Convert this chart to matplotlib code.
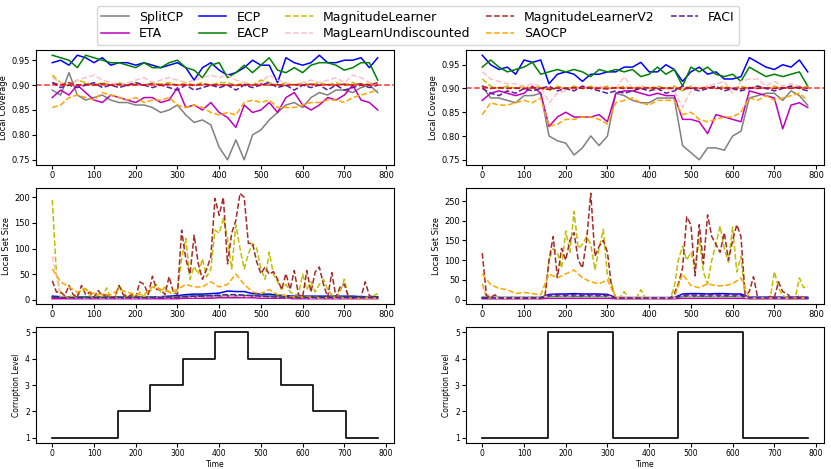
import numpy as np
import matplotlib.pyplot as plt

# time grids
t20 = np.arange(0, 781, 20)
t10 = np.arange(0, 781, 10)

# ---------------- local coverage, left (step 20) ----------------
split_cov_L = [0.890, 0.880, 0.925, 0.880, 0.870, 0.875, 0.880, 0.870, 0.865, 0.865,
               0.860, 0.860, 0.855, 0.845, 0.850, 0.860, 0.840, 0.825, 0.830, 0.820,
               0.775, 0.750, 0.790, 0.750, 0.800, 0.810, 0.830, 0.845, 0.860, 0.865,
               0.855, 0.875, 0.885, 0.880, 0.890, 0.890, 0.885, 0.895, 0.900, 0.885]
eta_cov_L = [0.875, 0.890, 0.880, 0.900, 0.885, 0.870, 0.865, 0.880, 0.875, 0.870,
             0.865, 0.875, 0.875, 0.865, 0.870, 0.895, 0.855, 0.860, 0.850, 0.865,
             0.845, 0.835, 0.815, 0.860, 0.845, 0.850, 0.865, 0.845, 0.875, 0.885,
             0.860, 0.850, 0.860, 0.875, 0.870, 0.880, 0.900, 0.870, 0.865, 0.850]
ecp_cov_L = [0.945, 0.950, 0.940, 0.960, 0.955, 0.945, 0.955, 0.940, 0.945, 0.945,
             0.940, 0.945, 0.940, 0.935, 0.940, 0.945, 0.935, 0.910, 0.935, 0.945,
             0.930, 0.920, 0.925, 0.935, 0.950, 0.940, 0.940, 0.905, 0.955, 0.945,
             0.940, 0.945, 0.960, 0.945, 0.945, 0.950, 0.950, 0.955, 0.935, 0.955]
eacp_cov_L = [0.960, 0.955, 0.950, 0.935, 0.960, 0.955, 0.950, 0.945, 0.945, 0.940,
              0.935, 0.945, 0.935, 0.935, 0.945, 0.950, 0.935, 0.930, 0.915, 0.940,
              0.945, 0.915, 0.925, 0.940, 0.925, 0.940, 0.955, 0.930, 0.925, 0.935,
              0.925, 0.940, 0.945, 0.945, 0.940, 0.930, 0.935, 0.945, 0.945, 0.910]
ml_cov_L = [0.920, 0.905, 0.900, 0.910, 0.905, 0.900, 0.905, 0.900, 0.905, 0.900,
            0.905, 0.900, 0.905, 0.902, 0.905, 0.900, 0.905, 0.900, 0.905, 0.900,
            0.905, 0.905, 0.900, 0.905, 0.900, 0.910, 0.905, 0.900, 0.905, 0.900,
            0.905, 0.900, 0.905, 0.900, 0.905, 0.900, 0.905, 0.900, 0.905, 0.900]
mlu_cov_L = [0.915, 0.905, 0.900, 0.910, 0.915, 0.920, 0.910, 0.905, 0.900, 0.905,
             0.910, 0.915, 0.905, 0.910, 0.915, 0.910, 0.905, 0.910, 0.915, 0.920,
             0.915, 0.920, 0.910, 0.905, 0.900, 0.905, 0.920, 0.910, 0.905, 0.900,
             0.905, 0.910, 0.905, 0.910, 0.915, 0.905, 0.920, 0.915, 0.905, 0.900]
mlv2_cov_L = [0.905, 0.900, 0.905, 0.900, 0.902, 0.900, 0.903, 0.900, 0.902, 0.899,
              0.901, 0.900, 0.903, 0.900, 0.902, 0.900, 0.901, 0.899, 0.902, 0.900,
              0.901, 0.900, 0.899, 0.901, 0.900, 0.902, 0.900, 0.901, 0.899, 0.901,
              0.900, 0.902, 0.900, 0.901, 0.900, 0.902, 0.900, 0.903, 0.900, 0.905]
saocp_cov_L = [0.855, 0.860, 0.875, 0.880, 0.875, 0.870, 0.885, 0.880, 0.875, 0.870,
               0.875, 0.865, 0.870, 0.870, 0.875, 0.860, 0.855, 0.860, 0.855, 0.845,
               0.840, 0.845, 0.840, 0.865, 0.870, 0.865, 0.870, 0.855, 0.855, 0.855,
               0.860, 0.865, 0.865, 0.870, 0.870, 0.865, 0.875, 0.880, 0.885, 0.890]
faci_cov_L = [0.905, 0.895, 0.900, 0.895, 0.900, 0.905, 0.895, 0.900, 0.895, 0.900,
              0.905, 0.900, 0.895, 0.900, 0.895, 0.890, 0.900, 0.890, 0.895, 0.900,
              0.895, 0.900, 0.890, 0.900, 0.895, 0.900, 0.905, 0.895, 0.900, 0.890,
              0.900, 0.895, 0.900, 0.890, 0.900, 0.890, 0.895, 0.900, 0.895, 0.900]

# ---------------- local coverage, right (step 20) ----------------
split_cov_R = [0.905, 0.880, 0.880, 0.875, 0.870, 0.885, 0.885, 0.890, 0.800, 0.790,
               0.785, 0.760, 0.775, 0.800, 0.780, 0.800, 0.890, 0.885, 0.875, 0.870,
               0.870, 0.880, 0.880, 0.880, 0.780, 0.765, 0.750, 0.775, 0.775, 0.770,
               0.800, 0.810, 0.880, 0.885, 0.890, 0.890, 0.875, 0.895, 0.885, 0.865]
eta_cov_R = [0.875, 0.890, 0.895, 0.890, 0.885, 0.890, 0.905, 0.890, 0.820, 0.840,
             0.850, 0.840, 0.840, 0.840, 0.845, 0.830, 0.890, 0.895, 0.895, 0.890,
             0.885, 0.890, 0.885, 0.885, 0.835, 0.835, 0.830, 0.805, 0.845, 0.840,
             0.835, 0.830, 0.895, 0.890, 0.885, 0.880, 0.815, 0.865, 0.870, 0.860]
ecp_cov_R = [0.970, 0.950, 0.940, 0.945, 0.930, 0.960, 0.955, 0.960, 0.910, 0.930,
             0.935, 0.930, 0.915, 0.930, 0.930, 0.935, 0.935, 0.945, 0.945, 0.955,
             0.935, 0.935, 0.950, 0.940, 0.915, 0.935, 0.945, 0.930, 0.935, 0.920,
             0.920, 0.925, 0.965, 0.955, 0.945, 0.940, 0.950, 0.945, 0.960, 0.935]
eacp_cov_R = [0.945, 0.960, 0.945, 0.935, 0.940, 0.945, 0.955, 0.930, 0.935, 0.940,
              0.935, 0.940, 0.935, 0.925, 0.940, 0.935, 0.940, 0.935, 0.940, 0.925,
              0.930, 0.945, 0.930, 0.940, 0.905, 0.945, 0.935, 0.945, 0.930, 0.925,
              0.930, 0.915, 0.945, 0.935, 0.925, 0.930, 0.925, 0.930, 0.935, 0.905]
ml_cov_R = [0.920, 0.905, 0.900, 0.905, 0.900, 0.905, 0.900, 0.905, 0.895, 0.905,
            0.900, 0.905, 0.900, 0.905, 0.900, 0.905, 0.900, 0.905, 0.900, 0.905,
            0.900, 0.905, 0.900, 0.905, 0.895, 0.905, 0.900, 0.905, 0.900, 0.905,
            0.900, 0.905, 0.900, 0.905, 0.900, 0.905, 0.900, 0.905, 0.900, 0.905]
mlu_cov_R = [0.935, 0.920, 0.915, 0.910, 0.910, 0.905, 0.910, 0.905, 0.870, 0.890,
             0.895, 0.900, 0.905, 0.900, 0.905, 0.900, 0.900, 0.925, 0.900, 0.905,
             0.900, 0.895, 0.900, 0.895, 0.860, 0.895, 0.900, 0.905, 0.910, 0.915,
             0.890, 0.915, 0.920, 0.920, 0.905, 0.915, 0.905, 0.910, 0.905, 0.900]
mlv2_cov_R = [0.905, 0.900, 0.902, 0.900, 0.901, 0.899, 0.902, 0.900, 0.898, 0.901,
              0.900, 0.902, 0.900, 0.901, 0.900, 0.899, 0.902, 0.900, 0.901, 0.900,
              0.902, 0.900, 0.901, 0.900, 0.898, 0.901, 0.900, 0.902, 0.900, 0.901,
              0.900, 0.899, 0.902, 0.900, 0.901, 0.900, 0.902, 0.900, 0.903, 0.900]
saocp_cov_R = [0.845, 0.870, 0.865, 0.865, 0.870, 0.875, 0.870, 0.880, 0.820, 0.825,
               0.835, 0.835, 0.840, 0.840, 0.835, 0.825, 0.870, 0.875, 0.880, 0.870,
               0.865, 0.875, 0.875, 0.875, 0.845, 0.850, 0.835, 0.830, 0.835, 0.840,
               0.840, 0.850, 0.880, 0.875, 0.885, 0.875, 0.880, 0.885, 0.890, 0.875]
faci_cov_R = [0.900, 0.890, 0.885, 0.895, 0.890, 0.900, 0.895, 0.900, 0.905, 0.895,
              0.900, 0.895, 0.905, 0.900, 0.895, 0.890, 0.895, 0.890, 0.895, 0.900,
              0.895, 0.900, 0.890, 0.895, 0.905, 0.900, 0.895, 0.900, 0.905, 0.895,
              0.900, 0.895, 0.900, 0.905, 0.900, 0.895, 0.900, 0.905, 0.900, 0.895]

# ---------------- local set size, left ----------------
# step 10
ml_set_L = [195, 50, 10, 5, 8, 5, 10, 20, 22, 8,
            5, 10, 5, 23, 5, 5, 28, 15, 5, 10,
            5, 15, 5, 15, 20, 30, 15, 25, 15, 10,
            20, 80, 120, 40, 65, 50, 80, 45, 60, 136,
            130, 159, 120, 60, 146, 100, 60, 90, 110, 100,
            60, 40, 93, 50, 35, 20, 30, 15, 10, 10,
            50, 20, 35, 15, 30, 40, 20, 10, 5, 15,
            40, 5, 3, 3, 3, 5, 5, 8, 12]
mlv2_set_L = [37, 15, 15, 8, 28, 10, 5, 28, 10, 15,
              5, 18, 8, 10, 5, 5, 28, 10, 5, 10,
              5, 35, 30, 10, 46, 20, 20, 10, 45, 15,
              10, 136, 80, 50, 126, 70, 40, 60, 84, 198,
              165, 200, 70, 130, 155, 208, 200, 110, 110, 74,
              51, 64, 50, 55, 40, 20, 51, 20, 57, 10,
              5, 57, 15, 54, 64, 30, 5, 53, 5, 25,
              30, 5, 3, 3, 5, 35, 8, 5, 3]
# step 20
saocp_set_L = [60, 35, 25, 15, 20, 12, 10, 10, 20, 15, 10, 10, 25, 20, 15, 20, 30, 25, 25, 35,
               25, 30, 50, 30, 15, 12, 20, 10, 8, 5, 5, 5, 4, 4, 5, 4, 3, 3, 3, 3]
ecp_set_L = [7, 6, 5, 5, 5, 5, 5, 5, 5, 5, 5, 5, 5, 6, 7, 8, 10, 11, 11, 12,
             13, 17, 16, 16, 12, 11, 11, 9, 8, 7, 7, 7, 7, 7, 7, 7, 7, 6, 6, 6]
eacp_set_L = [5, 5, 5, 5, 5, 5, 5, 5, 5, 5, 5, 5, 5, 5, 5, 6, 7, 7, 8, 8,
              8, 8, 8, 8, 8, 7, 7, 7, 6, 6, 6, 5, 5, 5, 5, 5, 5, 5, 5, 5]
split_set_L = [3, 3, 3, 3, 3, 3, 3, 3, 3, 3, 3, 3, 3, 3, 4, 4, 5, 5, 6, 6,
               7, 7, 8, 8, 7, 7, 6, 6, 5, 5, 4, 4, 4, 3, 3, 3, 3, 3, 3, 3]
eta_set_L = [2, 2, 2, 2, 2, 2, 2, 2, 2, 2, 2, 2, 2, 2, 2, 2, 3, 3, 3, 3,
             4, 4, 4, 4, 4, 3, 3, 3, 3, 2, 2, 2, 2, 2, 2, 2, 2, 2, 2, 2]
mlu_set_L = [85, 5, 4, 4, 3, 4, 3, 4, 3, 4, 3, 4, 4, 5, 4, 5, 6, 5, 6, 7,
             8, 7, 8, 6, 7, 6, 5, 5, 4, 4, 4, 3, 3, 4, 3, 3, 3, 4, 3, 3]
faci_set_L = [6, 4, 4, 4, 4, 4, 4, 4, 4, 4, 4, 4, 4, 4, 5, 5, 6, 7, 7, 8,
              9, 10, 10, 9, 8, 7, 6, 5, 5, 4, 4, 4, 4, 4, 4, 4, 4, 4, 4, 4]

# ---------------- local set size, right ----------------
ml_set_R = [40, 5, 3, 3, 3, 3, 3, 3, 3, 3,
            3, 3, 3, 3, 3, 5, 100, 130, 120, 80,
            174, 120, 224, 130, 140, 160, 140, 75, 130, 178,
            60, 40, 3, 5, 20, 5, 3, 5, 25, 5,
            3, 3, 3, 5, 3, 3, 30, 100, 135, 100,
            120, 80, 155, 70, 40, 100, 140, 187, 130, 95,
            184, 70, 110, 5, 3, 3, 3, 3, 3, 3,
            71, 30, 10, 5, 3, 3, 55, 30, 35]
mlv2_set_R = [118, 10, 5, 12, 5, 3, 3, 5, 3, 3,
              3, 3, 5, 3, 3, 5, 100, 160, 55, 130,
              100, 150, 170, 100, 80, 150, 270, 110, 135, 150,
              120, 30, 3, 3, 3, 3, 3, 3, 3, 3,
              3, 3, 3, 3, 3, 3, 15, 40, 80, 210,
              190, 60, 190, 90, 215, 160, 140, 120, 170, 100,
              150, 190, 160, 10, 20, 58, 5, 3, 3, 8,
              5, 45, 20, 15, 5, 3, 10, 5, 3]
saocp_set_R = [65, 38, 28, 25, 15, 18, 15, 12, 65, 55, 65, 75, 55, 45, 40, 50, 5, 5, 4, 5,
               4, 4, 4, 5, 65, 35, 30, 40, 35, 35, 40, 55, 5, 4, 4, 4, 4, 4, 5, 5]
ecp_set_R = [5, 5, 5, 5, 5, 5, 5, 5, 13, 14, 14, 15, 14, 14, 14, 13, 5, 5, 5, 5,
             5, 5, 5, 5, 14, 15, 15, 14, 15, 15, 14, 14, 6, 6, 6, 6, 6, 6, 6, 6]
eacp_set_R = [5, 5, 5, 5, 5, 5, 5, 5, 8, 8, 8, 8, 8, 8, 8, 8, 4, 4, 4, 4,
              4, 4, 4, 4, 8, 8, 8, 8, 8, 8, 8, 8, 4, 4, 4, 4, 4, 4, 4, 4]
split_set_R = [3, 3, 3, 3, 3, 3, 3, 3, 10, 10, 10, 10, 10, 10, 10, 10, 3, 3, 3, 3,
               3, 3, 3, 3, 10, 10, 10, 10, 10, 10, 10, 10, 3, 3, 3, 3, 3, 3, 3, 3]
eta_set_R = [2, 2, 2, 2, 2, 2, 2, 2, 3, 3, 3, 3, 3, 3, 3, 3, 2, 2, 2, 2,
             2, 2, 2, 2, 3, 3, 3, 3, 3, 3, 3, 3, 2, 2, 2, 2, 2, 2, 2, 2]
mlu_set_R = [30, 5, 4, 4, 4, 4, 4, 4, 10, 10, 9, 10, 10, 9, 10, 9, 4, 4, 4, 4,
             4, 4, 4, 4, 10, 9, 10, 10, 9, 10, 10, 9, 4, 4, 4, 4, 4, 4, 4, 4]
faci_set_R = [5, 4, 4, 4, 4, 4, 4, 4, 11, 12, 11, 12, 11, 12, 11, 11, 4, 4, 4, 4,
              4, 4, 4, 4, 11, 12, 11, 12, 12, 11, 12, 11, 4, 4, 4, 4, 4, 4, 4, 4]

# ---------------- corruption schedules ----------------
change_L = [0, 157, 235, 313, 391, 469, 547, 625, 703, 780]
level_L = [1, 2, 3, 4, 5, 4, 3, 2, 1, 1]
change_R = [0, 157, 313, 469, 625, 780]
level_R = [1, 5, 1, 5, 1, 1]

target = 0.9

names = ["SplitCP", "ETA", "ECP", "EACP", "MagnitudeLearner",
         "MagLearnUndiscounted", "MagnitudeLearnerV2", "SAOCP", "FACI"]
colors = ["gray", "m", "b", "g", "y", "pink", "brown", "orange", "#5a1d9e"]
styles = ["-", "-", "-", "-", "--", "--", "--", "--", "--"]

cov_L = [split_cov_L, eta_cov_L, ecp_cov_L, eacp_cov_L, ml_cov_L,
         mlu_cov_L, mlv2_cov_L, saocp_cov_L, faci_cov_L]
cov_R = [split_cov_R, eta_cov_R, ecp_cov_R, eacp_cov_R, ml_cov_R,
         mlu_cov_R, mlv2_cov_R, saocp_cov_R, faci_cov_R]
set_L = [(t20, split_set_L), (t20, eta_set_L), (t20, ecp_set_L), (t20, eacp_set_L),
         (t10, ml_set_L), (t20, mlu_set_L), (t10, mlv2_set_L), (t20, saocp_set_L),
         (t20, faci_set_L)]
set_R = [(t20, split_set_R), (t20, eta_set_R), (t20, ecp_set_R), (t20, eacp_set_R),
         (t10, ml_set_R), (t20, mlu_set_R), (t10, mlv2_set_R), (t20, saocp_set_R),
         (t20, faci_set_R)]

fig = plt.figure(figsize=(8.31, 4.69), dpi=100)
W, H = 831.0, 469.0


def add_ax(l, t, r, b):
    return fig.add_axes([l / W, 1 - b / H, (r - l) / W, (b - t) / H])


lefts = [(36, 394), (466, 824)]
rows = [(50, 165), (188, 304), (327, 443)]
lw = 1.1
xt = [0, 100, 200, 300, 400, 500, 600, 700, 800]

for col, (l, r) in enumerate(lefts):
    # coverage
    ax = add_ax(l, rows[0][0], r, rows[0][1])
    covs = cov_L if col == 0 else cov_R
    for k in range(len(names)):
        ax.plot(t20, covs[k], styles[k], color=colors[k], lw=lw, label=names[k])
    ax.axhline(target, color="red", ls="--", lw=1.1, alpha=0.8)
    ax.set_ylabel("Local Coverage", fontsize=6, labelpad=2)
    ax.set_xticks(xt)
    ax.tick_params(labelsize=6, length=3, pad=1.5)
    if col == 0:
        handles, labels = ax.get_legend_handles_labels()

    # set size
    ax = add_ax(l, rows[1][0], r, rows[1][1])
    sets = set_L if col == 0 else set_R
    for k in range(len(names)):
        tt, vv = sets[k]
        ax.plot(tt, vv, styles[k], color=colors[k], lw=lw)
    ax.set_ylabel("Local Set Size", fontsize=6, labelpad=2)
    ax.set_xticks(xt)
    ax.tick_params(labelsize=6, length=3, pad=1.5)

    # corruption level
    ax = add_ax(l, rows[2][0], r, rows[2][1])
    ch = change_L if col == 0 else change_R
    lv = level_L if col == 0 else level_R
    ax.step(ch, lv, where="post", color="black", lw=1.2)
    ax.set_ylabel("Corruption Level", fontsize=5.5, labelpad=3)
    ax.set_xlabel("Time", fontsize=5.5, labelpad=1)
    ax.set_xticks(xt)
    ax.set_yticks([1, 2, 3, 4, 5])
    ax.tick_params(labelsize=5.5, length=3, pad=1.5)

fig.legend(handles, labels, loc="upper center", bbox_to_anchor=(0.503, 1.0),
           ncol=5, fontsize=9, frameon=True, handlelength=2.2,
           columnspacing=1.3, borderpad=0.35, labelspacing=0.3)

fig.savefig("out.png", dpi=100)
